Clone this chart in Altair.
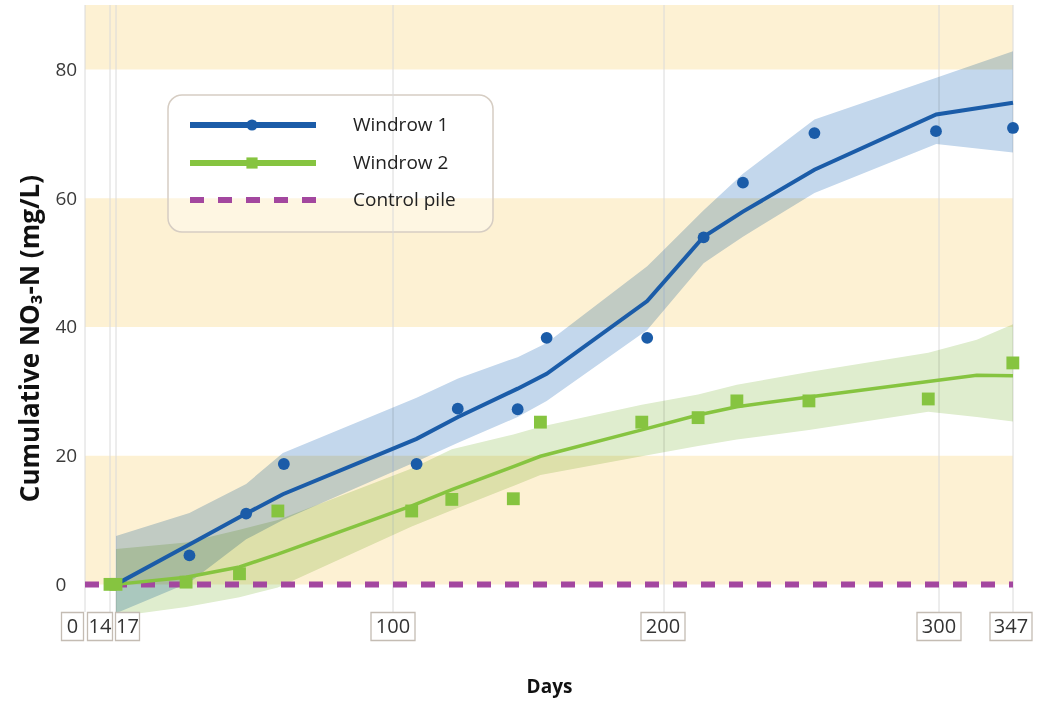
import altair as alt
import pandas as pd

# ---------------- data ----------------
series = ["Windrow 1", "Windrow 2", "Control pile"]

w1_days = [17, 39, 56, 67.3, 108.7, 123.9, 146, 156.7, 193.8, 214.4, 228.7, 254.7, 298.9, 347]
w1_vals = [0, 4.5, 11.0, 18.7, 18.7, 27.3, 27.2, 38.3, 38.3, 53.9, 62.4, 70.1, 70.4, 70.9]

w2_days = [14, 17, 38, 54, 65.5, 106.9, 121.7, 144.4, 154.4, 191.8, 212.4, 226.5, 252.7, 296.1, 346.9]
w2_vals = [0, 0, 0.35, 1.65, 11.4, 11.4, 13.2, 13.3, 25.2, 25.2, 25.9, 28.5, 28.5, 28.8, 34.4]

w1_fit_days = [17, 39, 56, 67, 108.7, 124, 146, 156.7, 193.8, 214.4, 228.7, 254.7, 299, 347]
w1_fit = [0, 6.2, 11.0, 14.0, 22.6, 26.0, 30.4, 32.7, 44.0, 54.0, 57.9, 64.4, 73.0, 74.8]
w1_hi = [7.5, 11.1, 15.6, 20.4, 29.0, 32.0, 35.3, 37.5, 49.4, 58.1, 63.8, 72.2, 78.7, 82.8]
w1_lo = [-4.5, 0.3, 7.0, 10.0, 19.1, 22.0, 26.0, 28.5, 39.5, 49.9, 54.0, 60.8, 68.4, 67.1]

w2_fit_days = [17, 38, 54, 65.5, 106.9, 121.7, 144.4, 154.4, 191.8, 212.4, 226.5, 252.7, 296.1, 324, 347]
w2_fit = [0, 1.1, 2.7, 4.7, 12.2, 14.7, 18.3, 19.9, 24.0, 26.3, 27.6, 29.1, 31.5, 32.5, 32.4]
w2_hi = [5.5, 6.5, 8.5, 10.0, 18.0, 21.0, 23.3, 24.5, 27.9, 29.5, 31.0, 33.0, 36.0, 38.0, 40.4]
w2_lo = [-5.0, -3.5, -2.0, -0.5, 9.0, 11.5, 15.3, 17.0, 19.9, 21.5, 22.5, 24.0, 26.8, 26.0, 25.3]

control_days = [0, 347]
control_vals = [0, 0]

band_lo = [0, 40, 80]
band_hi = [20, 60, 90]

tick_days = [0, 14, 17, 100, 200, 300, 347]
tick_labels = ["0", "14", "17", "100", "200", "300", "347"]
y_ticks = [0, 20, 40, 60, 80]

# ---------------- styling ----------------
FONT = "Open Sans"
W, H = 928, 618
BLUE = "#1B5CA8"
GREEN = "#86C440"
PURPLE = "#A3479F"
YELLOW = "#FDF1D3"

# the original x axis is not to scale: piecewise-linear mapping
xscale = alt.Scale(domain=tick_days, range=[0, 25, 31, 308, 579, 854, 928], zero=False, nice=False)
yscale = alt.Scale(domain=[-6, 90], zero=False, nice=False)

XAX = alt.Axis(labels=False, ticks=False, domain=False, grid=False,
               title="Days", titleFont=FONT, titleFontSize=19,
               titleFontWeight="bold", titleColor="#111111", titlePadding=54)
YAX = alt.Axis(values=y_ticks, domain=False, ticks=False, grid=False,
               labelFont=FONT, labelFontSize=19, labelColor="#3A3A3A",
               labelAlign="left", labelPadding=30, labelBaseline="middle",
               title="Cumulative NO₃-N (mg/L)", titleFont=FONT,
               titleFontSize=26, titleFontWeight="bold", titleColor="#111111",
               titleX=-55, titleY=333, titleAngle=270,
               titleAlign="center", titleBaseline="middle")


def X(field="day"):
    return alt.X(f"{field}:Q", scale=xscale, axis=XAX)


def Y(field):
    return alt.Y(f"{field}:Q", scale=yscale, axis=YAX)


bands_df = pd.DataFrame({"lo": band_lo, "hi": band_hi})
ticks_df = pd.DataFrame({"day": tick_days, "label": tick_labels})
w1_pts = pd.DataFrame({"day": w1_days, "v": w1_vals, "series": series[0]})
w2_pts = pd.DataFrame({"day": w2_days, "v": w2_vals, "series": series[1]})
w1_fit_df = pd.DataFrame({"day": w1_fit_days, "fit": w1_fit, "hi": w1_hi, "lo": w1_lo})
w2_fit_df = pd.DataFrame({"day": w2_fit_days, "fit": w2_fit, "hi": w2_hi, "lo": w2_lo})
ctrl_df = pd.DataFrame({"day": control_days, "v": control_vals})

bands = alt.Chart(bands_df).mark_rect(color=YELLOW).encode(
    x=alt.value(0), x2=alt.value(W), y=Y("lo"), y2="hi:Q")

grid = alt.Chart(ticks_df).mark_rule(color="#DADADA", strokeWidth=1).encode(
    x=X(), y=alt.value(0), y2=alt.value(607))

legend_box = alt.Chart(pd.DataFrame({"series": [series[0]]})).mark_rect(
    fill="#FFFFFF", fillOpacity=0.35, stroke="#D6CDC3", strokeWidth=1.5, cornerRadius=14
).encode(x=alt.value(83), x2=alt.value(408), y=alt.value(90), y2=alt.value(227))

area1 = alt.Chart(w1_fit_df).mark_area(color="#C3D7EC", blend="multiply", opacity=1).encode(
    x=X(), y=Y("lo"), y2="hi:Q")
area2 = alt.Chart(w2_fit_df).mark_area(color="#DFEDCE", blend="multiply", opacity=1).encode(
    x=X(), y=Y("lo"), y2="hi:Q")

ctrl = alt.Chart(ctrl_df).mark_line(color=PURPLE, strokeWidth=6, strokeDash=[14, 14],
                                    strokeCap="butt").encode(x=X(), y=Y("v"))

line1 = alt.Chart(w1_fit_df).mark_line(color=BLUE, strokeWidth=4).encode(x=X(), y=Y("fit"))
line2 = alt.Chart(w2_fit_df).mark_line(color=GREEN, strokeWidth=3.5).encode(x=X(), y=Y("fit"))

pts1 = alt.Chart(w1_pts).mark_point(shape="circle", filled=True, size=140, color=BLUE,
                                    opacity=1).encode(x=X(), y=Y("v"))
pts2 = alt.Chart(w2_pts).mark_point(shape="square", filled=True, size=165, color=GREEN,
                                    opacity=1).encode(x=X(), y=Y("v"))


# ---- legend (drawn by hand, like the original) ----
def legend_row(i, color, ypix, marker=None, dash=None):
    d = pd.DataFrame({"series": [series[i]]})
    kw = dict(color=color, strokeWidth=6)
    if dash:
        kw.update(strokeDash=dash, strokeCap="butt")
    layers = [alt.Chart(d).mark_rule(**kw).encode(
        x=alt.value(105), x2=alt.value(231), y=alt.value(ypix))]
    if marker:
        layers.append(alt.Chart(d).mark_point(shape=marker, filled=True, size=125,
                                              color=color, opacity=1).encode(
            x=alt.value(167), y=alt.value(ypix)))
    layers.append(alt.Chart(d).mark_text(font=FONT, fontSize=19, color="#222222",
                                         align="left", baseline="middle").encode(
        x=alt.value(268), y=alt.value(ypix), text="series:N"))
    return layers


legend_layers = (legend_row(0, BLUE, 120, "circle")
                 + legend_row(1, GREEN, 158, "square")
                 + legend_row(2, PURPLE, 195, dash=[14, 14]))


# ---- boxed tick labels ----
def tick_box(day, shift, w, h=28):
    d = ticks_df[ticks_df.day == day]
    r = h / w
    path = f"M-1,{-r}L1,{-r}L1,{r}L-1,{r}Z"
    box = alt.Chart(d).mark_point(shape=path, size=w * w, fill="#FFFFFF", filled=True,
                                  stroke="#C4BCB3", strokeWidth=1.3, opacity=1,
                                  xOffset=shift).encode(x=X(), y=alt.value(621.5))
    txt = alt.Chart(d).mark_text(font=FONT, fontSize=20, color="#333333",
                                 baseline="middle", dx=shift).encode(
        x=X(), y=alt.value(622), text="label:N")
    return [box, txt]


tick_layers = []
for day, shift, w in zip(tick_days, [-12.5, -10, 11.5, 0, -1, 0, -2],
                         [22, 25, 24, 44, 44, 44, 42]):
    tick_layers += tick_box(day, shift, w)

chart = alt.layer(
    bands, legend_box, grid, area1, area2, ctrl, line2, line1, pts1, pts2,
    *legend_layers, *tick_layers
).properties(
    width=W, height=H,
    padding={"left": 85, "top": 5, "right": 25, "bottom": 84},
    autosize=alt.AutoSizeParams(type="none"),
    background="#FFFFFF",
).configure_view(stroke=None)

chart.save("out.html", embed_options={"renderer": "svg", "actions": False})
